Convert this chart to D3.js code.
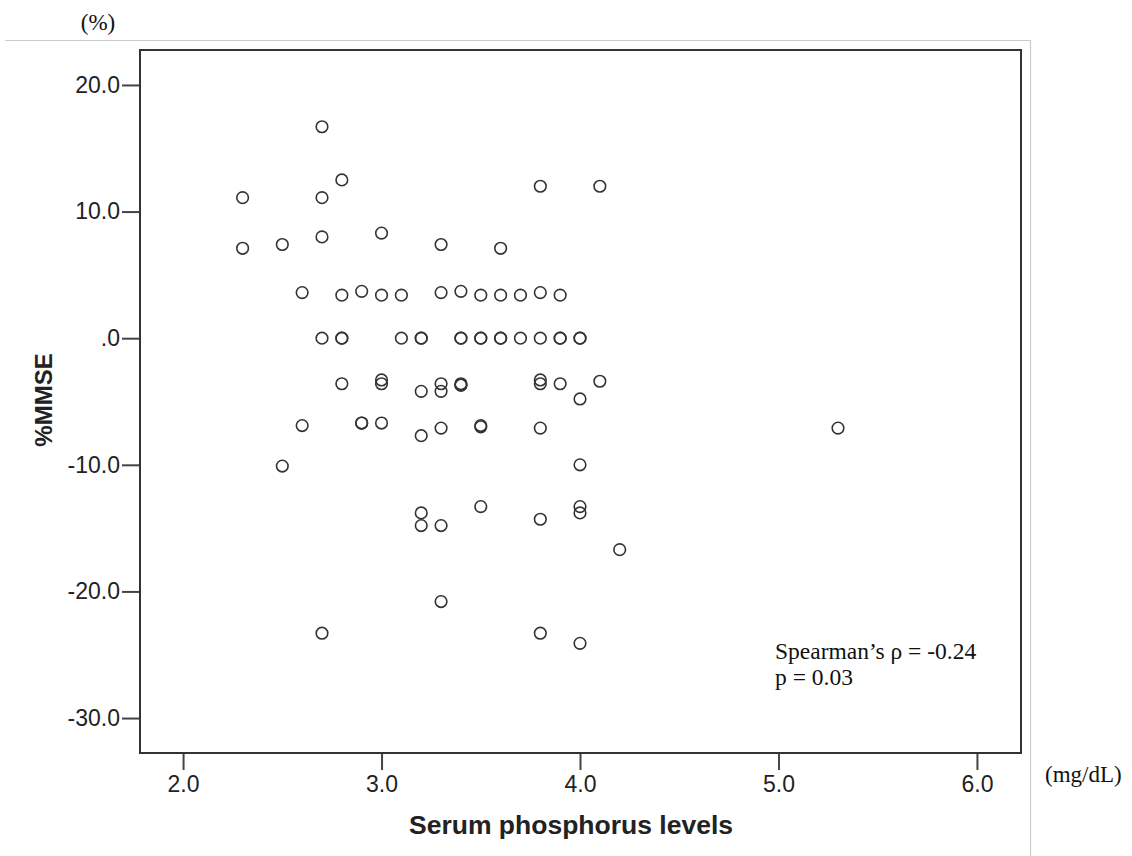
<!DOCTYPE html>
<html>
<head>
<meta charset="utf-8">
<script src="https://cdn.jsdelivr.net/npm/d3@7"></script>
<style>
    body { margin: 0; background: #fff; }
    .tick text { font-family: "Liberation Sans", Arial, sans-serif; font-size: 23px; fill: #222; }
    .axis path { display: none; }
    .axis line { stroke: #444; stroke-width: 2; }
    .unit { font-family: "Liberation Serif", "Times New Roman", serif; font-size: 23px; fill: #111; }
    .title { font-family: "Liberation Sans", Arial, sans-serif; font-weight: bold; font-size: 26.5px; fill: #222; }
</style>
</head>
<body>
<svg id="chart" width="1132" height="856"></svg>
<script>
// serum phosphorus (mg/dL) and %MMSE change, read point by point
var phosphorus = [
    2.3, 2.3,
    2.5, 2.5,
    2.6, 2.6,
    2.7, 2.7, 2.7, 2.7, 2.7,
    2.8, 2.8, 2.8, 2.8, 2.8,
    2.9, 2.9, 2.9,
    3.0, 3.0, 3.0, 3.0, 3.0,
    3.1, 3.1,
    3.2, 3.2, 3.2, 3.2, 3.2, 3.2,
    3.3, 3.3, 3.3, 3.3, 3.3, 3.3, 3.3,
    3.4, 3.4, 3.4, 3.4, 3.4, 3.4,
    3.5, 3.5, 3.5, 3.5, 3.5, 3.5,
    3.6, 3.6, 3.6, 3.6,
    3.7, 3.7,
    3.8, 3.8, 3.8, 3.8, 3.8, 3.8, 3.8, 3.8,
    3.9, 3.9, 3.9, 3.9,
    4.0, 4.0, 4.0, 4.0, 4.0, 4.0, 4.0,
    4.1, 4.1,
    4.2,
    5.3
];
var mmse = [
    11.1, 7.1,
    7.4, -10.1,
    3.6, -6.9,
    16.7, 11.1, 8.0, 0, -23.3,
    12.5, 3.4, 0, 0, -3.6,
    3.7, -6.7, -6.7,
    8.3, 3.4, -3.3, -3.6, -6.7,
    3.4, 0,
    0, 0, -4.2, -7.7, -13.8, -14.8,
    7.4, 3.6, -3.6, -4.2, -7.1, -14.8, -20.8,
    3.7, 0, 0, -3.6, -3.7, -3.7,
    3.4, 0, 0, -7.0, -6.9, -13.3,
    7.1, 3.4, 0, 0,
    3.4, 0,
    12.0, 3.6, 0, -3.3, -3.6, -7.1, -14.3, -23.3,
    3.4, 0, 0, -3.6,
    0, 0, -4.8, -10.0, -13.3, -13.8, -24.1,
    12.0, -3.4,
    -16.7,
    -7.1
];
var xTicks = [2.0, 3.0, 4.0, 5.0, 6.0];
var yTicks = [20, 10, 0, -10, -20, -30];
var statLines = ["Spearman\u2019s \u03c1 = -0.24", "p = 0.03"];

var svg = d3.select("#chart");
var plot = { left: 140, top: 50, right: 1021, bottom: 753 };

var x = d3.scaleLinear().domain([1.783, 6.222]).range([plot.left, plot.right]);
var y = d3.scaleLinear().domain([-32.76, 22.76]).range([plot.bottom, plot.top]);

// SPSS style labels: plain hyphen and no leading zero
function spssFormat(d) {
    if (d === 0) return ".0";
    return d.toFixed(1);
}

// light page frame around the figure
svg.append("path")
    .attr("d", "M5,40.5H1030.5V856")
    .attr("fill", "none")
    .attr("stroke", "#ccc")
    .attr("stroke-width", 1.2);

svg.append("g")
    .attr("class", "axis")
    .attr("transform", "translate(0," + plot.bottom + ")")
    .call(d3.axisBottom(x).tickValues(xTicks).tickSize(17).tickPadding(6).tickFormat(spssFormat));

svg.append("g")
    .attr("class", "axis")
    .attr("transform", "translate(" + plot.left + ",0)")
    .call(d3.axisLeft(y).tickValues(yTicks).tickSize(18).tickPadding(2).tickFormat(spssFormat));

svg.append("rect")
    .attr("x", plot.left)
    .attr("y", plot.top)
    .attr("width", plot.right - plot.left)
    .attr("height", plot.bottom - plot.top)
    .attr("fill", "none")
    .attr("stroke", "#333")
    .attr("stroke-width", 2);

var points = phosphorus.map((p, i) => ({ p: p, m: mmse[i] }));

svg.append("g").selectAll("circle")
    .data(points)
    .enter()
    .append("circle")
    .attr("cx", d => x(d.p))
    .attr("cy", d => y(d.m))
    .attr("r", 5.8)
    .attr("fill", "none")
    .attr("stroke", "#333")
    .attr("stroke-width", 1.6);

svg.append("text")
    .attr("class", "title")
    .attr("x", 571)
    .attr("y", 834)
    .attr("text-anchor", "middle")
    .text("Serum phosphorus levels");

svg.append("text")
    .attr("class", "title")
    .attr("transform", "translate(52,400) rotate(-90)")
    .attr("text-anchor", "middle")
    .style("font-size", "24px")
    .text("%MMSE");

svg.append("text")
    .attr("class", "unit")
    .attr("x", 98)
    .attr("y", 30)
    .attr("text-anchor", "middle")
    .text("(%)");

svg.append("text")
    .attr("class", "unit")
    .attr("x", 1045)
    .attr("y", 782)
    .text("(mg/dL)");

svg.append("g").selectAll("text")
    .data(statLines)
    .enter()
    .append("text")
    .attr("class", "unit")
    .attr("x", 775)
    .attr("y", (d, i) => 659 + i * 26)
    .style("font-size", "23.5px")
    .text(d => d);
</script>
</body>
</html>
